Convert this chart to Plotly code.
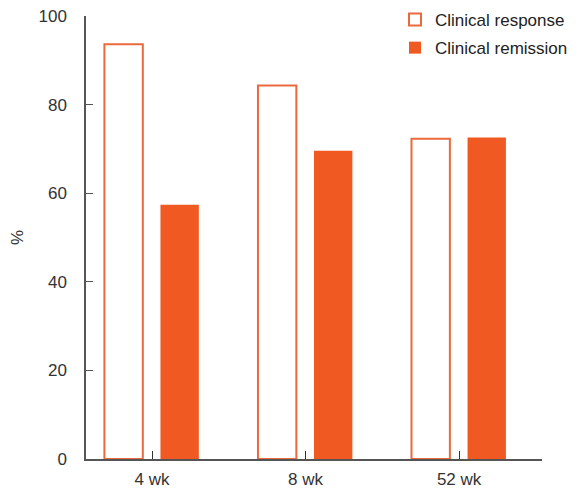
import plotly.graph_objects as go

categories = ["4 wk", "8 wk", "52 wk"]
clinical_response = [93.6, 84.3, 72.3]
clinical_remission = [57.4, 69.6, 72.6]
y_ticks = [0, 20, 40, 60, 80, 100]

orange = "#F05A22"
outline = "#EA6A3E"

fig = go.Figure()
fig.add_trace(go.Bar(
    x=categories, y=clinical_response, name="Clinical response",
    legendgroup="a",
    marker=dict(color="white", line=dict(color=outline, width=2)),
    width=0.25, offset=-0.31,
))
fig.add_trace(go.Bar(
    x=categories, y=clinical_remission, name="Clinical remission",
    legendgroup="b",
    marker=dict(color=orange, line=dict(color=orange, width=0)),
    width=0.25, offset=0.055,
))

fig.update_layout(
    width=572, height=490,
    margin=dict(l=78, r=38, t=8, b=39, autoexpand=False),
    plot_bgcolor="white", paper_bgcolor="white",
    font=dict(family="Liberation Sans, Arial, sans-serif", size=17, color="#333333"),
    showlegend=True,
    legend=dict(x=(387 - 78) / 456, y=1 + 14 / 443,
                xanchor="left", yanchor="top",
                bgcolor="rgba(0,0,0,0)", font=dict(size=17, color="#222222"),
                itemwidth=30, tracegroupgap=3, traceorder="grouped"),
    xaxis=dict(
        type="category", range=[-0.43, 2.54], automargin=False,
        showline=True, linecolor="#555555", linewidth=1.5,
        ticks="inside", ticklen=8, tickcolor="#333333", tickwidth=1,
        ticklabelstandoff=4, ticklabeloverflow="allow",
        showgrid=False, zeroline=False,
    ),
    yaxis=dict(
        range=[0, 100], tickvals=y_ticks, automargin=False,
        showline=True, linecolor="#555555", linewidth=1.5,
        ticks="inside", ticklen=7, tickcolor="#555555", tickwidth=1,
        ticklabelstandoff=14, ticklabeloverflow="allow",
        showgrid=False, zeroline=False,
        title=dict(text="%", standoff=32, font=dict(size=17)),
    ),
)

fig.write_html("out.html")
